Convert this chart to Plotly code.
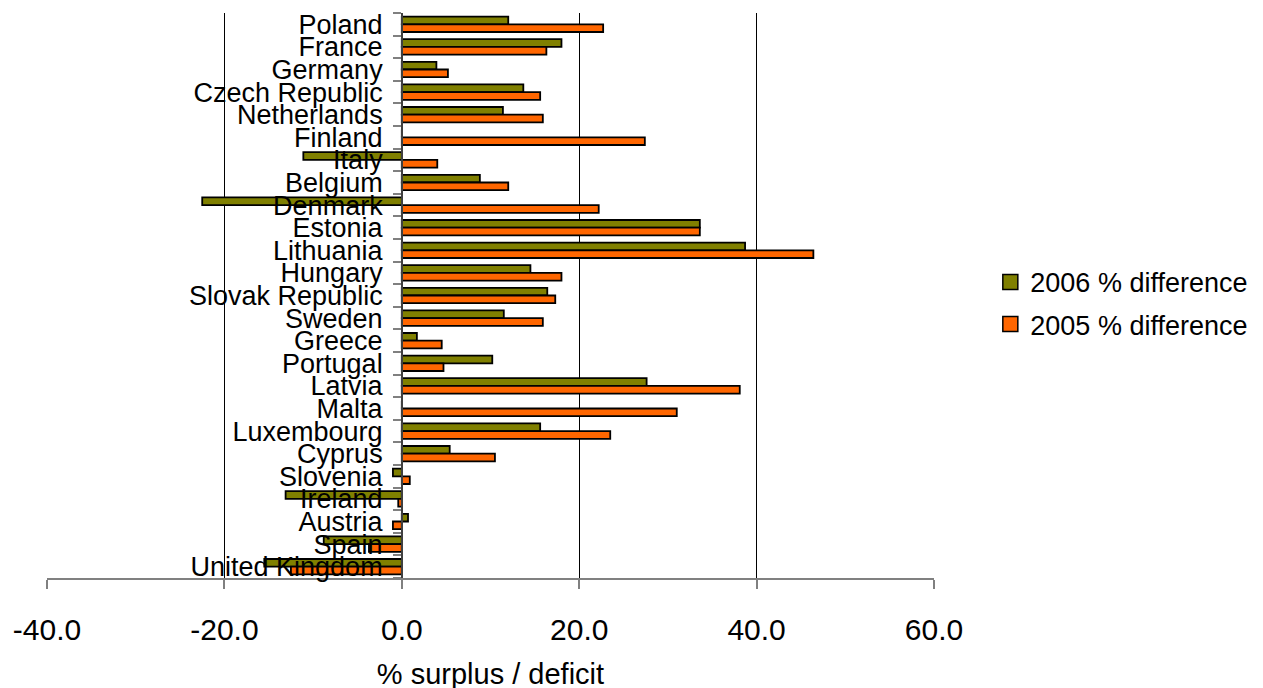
import plotly.graph_objects as go

countries = ["Poland", "France", "Germany", "Czech Republic", "Netherlands", "Finland",
             "Italy", "Belgium", "Denmark", "Estonia", "Lithuania", "Hungary",
             "Slovak Republic", "Sweden", "Greece", "Portugal", "Latvia", "Malta",
             "Luxembourg", "Cyprus", "Slovenia", "Ireland", "Austria", "Spain",
             "United Kingdom"]

diff_2006 = [12.0, 18.0, 3.9, 13.7, 11.4, 0.0,
             -11.1, 8.8, -22.5, 33.6, 38.7, 14.5,
             16.4, 11.5, 1.7, 10.2, 27.6, 0.0,
             15.6, 5.4, -1.0, -13.1, 0.7, -8.8,
             -15.5]

diff_2005 = [22.7, 16.3, 5.2, 15.6, 15.9, 27.4,
             4.0, 12.0, 22.2, 33.6, 46.4, 18.0,
             17.3, 15.9, 4.5, 4.7, 38.1, 31.0,
             23.5, 10.5, 0.9, -0.4, -1.0, -3.7,
             -12.5]

x_ticks = [-40, -20, 0, 20, 40, 60]
x_ticktext = [f"{v:.1f}" for v in x_ticks]

series_names = ["2006 % difference", "2005 % difference"]
series_colors = ["#808000", "#FF6600"]

FONT = "Liberation Sans, Arial, sans-serif"

fig = go.Figure()
for name, vals, col in zip(series_names, [diff_2006, diff_2005], series_colors):
    fig.add_trace(go.Bar(
        y=countries, x=vals, orientation="h", name=name, showlegend=False,
        marker=dict(color=col, line=dict(color="black", width=1.8)),
    ))
# legend-only entries with larger square swatches
for i, (name, col) in enumerate(zip(series_names, series_colors)):
    fig.add_trace(go.Scatter(
        x=[None], y=[None], mode="markers", name=name, legendgroup=str(i),
        marker=dict(symbol="square", size=15, color=col, line=dict(color="black", width=1.5)),
    ))

fig.update_layout(
    width=1263, height=688,
    margin=dict(l=39, r=337, t=5, b=118, autoexpand=False),
    paper_bgcolor="white", plot_bgcolor="white",
    barmode="group", bargap=0.32, bargroupgap=0.0,
    font=dict(family=FONT, color="black"),
    legend=dict(x=1.0635, y=0.486, xanchor="left", yanchor="middle",
                font=dict(size=27, family=FONT), tracegroupgap=4,
                itemwidth=30,
                bgcolor="rgba(0,0,0,0)"),
    xaxis=dict(
        range=[-40, 60], tickmode="array", tickvals=x_ticks, ticktext=x_ticktext,
        showgrid=True, gridcolor="black", gridwidth=1,
        zeroline=False, automargin=False,
        showline=True, linecolor="#808080", linewidth=1.5,
        ticks="outside", ticklen=9, tickcolor="#808080", tickwidth=1.5,
        tickfont=dict(size=30, family="Liberation Sans Narrow, " + FONT),
        ticklabelstandoff=15,
        title=dict(text="% surplus / deficit", font=dict(size=29, family=FONT), standoff=19),
    ),
    yaxis=dict(
        type="category", autorange="reversed",
        tickmode="array", tickvals=countries, ticktext=countries,
        anchor="free", position=0.4, automargin=False,
        showline=True, linecolor="#404040", linewidth=1.5,
        ticks="outside", tickson="boundaries", ticklen=8, tickcolor="#808080", tickwidth=1.5,
        showgrid=False,
        tickfont=dict(size=27, family=FONT),
        ticklabelstandoff=13,
    ),
)

fig.write_html("out.html")
